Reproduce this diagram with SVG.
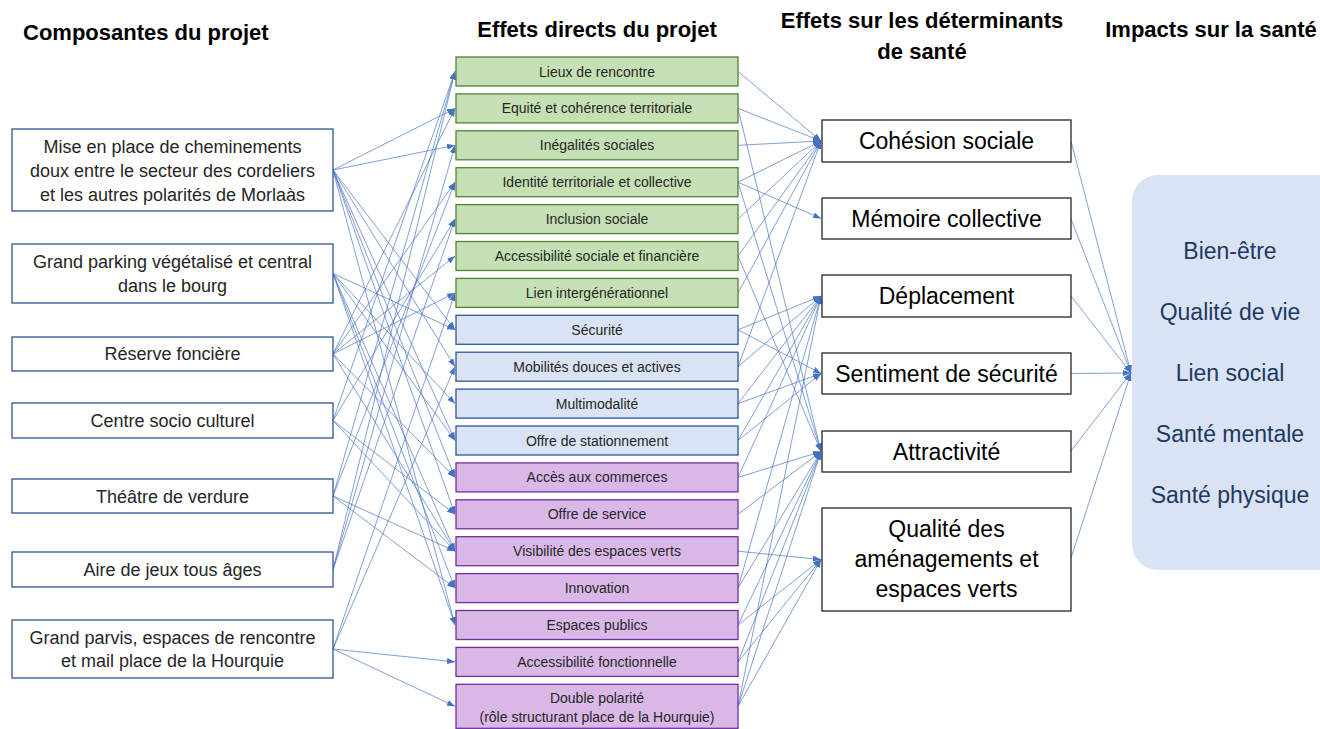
<svg xmlns="http://www.w3.org/2000/svg" width="1320" height="729" viewBox="0 0 1320 729">
<defs>
<marker id="ah" viewBox="0 0 8 6" refX="8" refY="3" markerWidth="8" markerHeight="6" markerUnits="userSpaceOnUse" orient="auto"><path d="M0,0 L8,3 L0,6 z" fill="#4472c4"/></marker>
<style>
.hd{font-family:"Liberation Sans",Arial,sans-serif;font-weight:bold;font-size:22px;fill:#000}
.lt{font-family:"Liberation Sans",Arial,sans-serif;font-size:18px;fill:#262626;text-anchor:middle}
.mt{font-family:"Liberation Sans",Arial,sans-serif;font-size:14px;fill:#262626;text-anchor:middle}
.rt{font-family:"Liberation Sans",Arial,sans-serif;font-size:23px;fill:#000;text-anchor:middle}
.it{font-family:"Liberation Sans",Arial,sans-serif;font-size:23px;fill:#203864;text-anchor:middle}
.lb{fill:#fff;stroke:#2f5597;stroke-width:1.3}
.gb{fill:#c5e0b4;stroke:#548235;stroke-width:1.3}
.bb{fill:#dae3f3;stroke:#2f5597;stroke-width:1.3}
.pb{fill:#d9b8e8;stroke:#7030a0;stroke-width:1.3}
.rb{fill:#fff;stroke:#262626;stroke-width:1.3}
.cn line{stroke:#4472c4;stroke-width:0.9;stroke-opacity:0.75;marker-end:url(#ah)}
</style>
</defs>
<rect width="1320" height="729" fill="#fff"/>
<g id="headers">
<text class="hd" x="23" y="40">Composantes du projet</text>
<text class="hd" x="597" y="37" text-anchor="middle">Effets directs du projet</text>
<text class="hd" x="922" y="28" text-anchor="middle">Effets sur les déterminants</text>
<text class="hd" x="922" y="59" text-anchor="middle">de santé</text>
<text class="hd" x="1211" y="37" text-anchor="middle">Impacts sur la santé</text>
</g>
<g id="connectors" class="cn">
<line x1="333" y1="170" x2="455" y2="108.4"/>
<line x1="333" y1="170" x2="455" y2="145.3"/>
<line x1="333" y1="170" x2="455" y2="329.8"/>
<line x1="333" y1="170" x2="455" y2="366.7"/>
<line x1="333" y1="170" x2="455" y2="440.5"/>
<line x1="333" y1="170" x2="455" y2="477.4"/>
<line x1="333" y1="170" x2="455" y2="514.3"/>
<line x1="333" y1="170" x2="455" y2="625"/>
<line x1="333" y1="273.5" x2="455" y2="329.8"/>
<line x1="333" y1="273.5" x2="455" y2="403.6"/>
<line x1="333" y1="273.5" x2="455" y2="440.5"/>
<line x1="333" y1="273.5" x2="455" y2="551.2"/>
<line x1="333" y1="273.5" x2="455" y2="588.1"/>
<line x1="333" y1="273.5" x2="455" y2="625"/>
<line x1="333" y1="354" x2="455" y2="108.4"/>
<line x1="333" y1="354" x2="455" y2="182.2"/>
<line x1="333" y1="354" x2="455" y2="256"/>
<line x1="333" y1="354" x2="455" y2="292.9"/>
<line x1="333" y1="354" x2="455" y2="477.4"/>
<line x1="333" y1="354" x2="455" y2="551.2"/>
<line x1="333" y1="420.5" x2="455" y2="71.5"/>
<line x1="333" y1="420.5" x2="455" y2="219.1"/>
<line x1="333" y1="420.5" x2="455" y2="514.3"/>
<line x1="333" y1="420.5" x2="455" y2="551.2"/>
<line x1="333" y1="496" x2="455" y2="71.5"/>
<line x1="333" y1="496" x2="455" y2="182.2"/>
<line x1="333" y1="496" x2="455" y2="551.2"/>
<line x1="333" y1="496" x2="455" y2="588.1"/>
<line x1="333" y1="569.5" x2="455" y2="71.5"/>
<line x1="333" y1="569.5" x2="455" y2="145.3"/>
<line x1="333" y1="569.5" x2="455" y2="219.1"/>
<line x1="333" y1="649" x2="455" y2="292.9"/>
<line x1="333" y1="649" x2="455" y2="366.7"/>
<line x1="333" y1="649" x2="455" y2="661.9"/>
<line x1="333" y1="649" x2="455" y2="706.3"/>
<line x1="738" y1="71.5" x2="821" y2="141"/>
<line x1="738" y1="108.4" x2="821" y2="141"/>
<line x1="738" y1="108.4" x2="821" y2="451.5"/>
<line x1="738" y1="145.3" x2="821" y2="141"/>
<line x1="738" y1="182.2" x2="821" y2="141"/>
<line x1="738" y1="182.2" x2="821" y2="218.5"/>
<line x1="738" y1="182.2" x2="821" y2="451.5"/>
<line x1="738" y1="219.1" x2="821" y2="141"/>
<line x1="738" y1="256" x2="821" y2="141"/>
<line x1="738" y1="256" x2="821" y2="451.5"/>
<line x1="738" y1="292.9" x2="821" y2="141"/>
<line x1="738" y1="329.8" x2="821" y2="296"/>
<line x1="738" y1="329.8" x2="821" y2="373.5"/>
<line x1="738" y1="366.7" x2="821" y2="296"/>
<line x1="738" y1="366.7" x2="821" y2="141"/>
<line x1="738" y1="403.6" x2="821" y2="296"/>
<line x1="738" y1="403.6" x2="821" y2="373.5"/>
<line x1="738" y1="440.5" x2="821" y2="296"/>
<line x1="738" y1="440.5" x2="821" y2="373.5"/>
<line x1="738" y1="477.4" x2="821" y2="451.5"/>
<line x1="738" y1="477.4" x2="821" y2="296"/>
<line x1="738" y1="514.3" x2="821" y2="451.5"/>
<line x1="738" y1="551.2" x2="821" y2="559.5"/>
<line x1="738" y1="588.1" x2="821" y2="451.5"/>
<line x1="738" y1="588.1" x2="821" y2="296"/>
<line x1="738" y1="625" x2="821" y2="559.5"/>
<line x1="738" y1="625" x2="821" y2="451.5"/>
<line x1="738" y1="661.9" x2="821" y2="451.5"/>
<line x1="738" y1="661.9" x2="821" y2="559.5"/>
<line x1="738" y1="706.3" x2="821" y2="451.5"/>
<line x1="738" y1="706.3" x2="821" y2="559.5"/>
<line x1="738" y1="706.3" x2="821" y2="296"/>
<line x1="1071" y1="141" x2="1131" y2="373"/>
<line x1="1071" y1="219" x2="1131" y2="373"/>
<line x1="1071" y1="296" x2="1131" y2="373"/>
<line x1="1071" y1="373.5" x2="1131" y2="373"/>
<line x1="1071" y1="451" x2="1131" y2="373"/>
<line x1="1071" y1="558" x2="1131" y2="373"/>
</g>
<g id="n-l1"><rect class="lb" x="12" y="129" width="321" height="82"/><text class="lt" x="172.5" y="153">Mise en place de cheminements</text><text class="lt" x="172.5" y="177">doux entre le secteur des cordeliers</text><text class="lt" x="172.5" y="201">et les autres polarités de Morlaàs</text></g>
<g id="n-l2"><rect class="lb" x="12" y="244" width="321" height="59"/><text class="lt" x="172.5" y="268">Grand parking végétalisé et central</text><text class="lt" x="172.5" y="292">dans le bourg</text></g>
<g id="n-l3"><rect class="lb" x="12" y="337" width="321" height="34"/><text class="lt" x="172.5" y="360">Réserve  foncière</text></g>
<g id="n-l4"><rect class="lb" x="12" y="403" width="321" height="35"/><text class="lt" x="172.5" y="427">Centre socio culturel</text></g>
<g id="n-l5"><rect class="lb" x="12" y="479" width="321" height="34"/><text class="lt" x="172.5" y="502.5">Théâtre de verdure</text></g>
<g id="n-l6"><rect class="lb" x="12" y="552" width="321" height="35"/><text class="lt" x="172.5" y="576">Aire de jeux tous âges</text></g>
<g id="n-l7"><rect class="lb" x="12" y="620" width="321" height="58"/><text class="lt" x="172.5" y="643.5">Grand parvis, espaces de rencontre</text><text class="lt" x="172.5" y="667">et mail place de la Hourquie</text></g>
<g id="n-m0"><rect class="gb" x="456" y="57" width="282" height="29"/><text class="mt" x="597" y="76.5">Lieux de rencontre</text></g>
<g id="n-m1"><rect class="gb" x="456" y="93.9" width="282" height="29"/><text class="mt" x="597" y="113.4">Equité et cohérence territoriale</text></g>
<g id="n-m2"><rect class="gb" x="456" y="130.8" width="282" height="29"/><text class="mt" x="597" y="150.3">Inégalités sociales</text></g>
<g id="n-m3"><rect class="gb" x="456" y="167.7" width="282" height="29"/><text class="mt" x="597" y="187.2">Identité territoriale et collective</text></g>
<g id="n-m4"><rect class="gb" x="456" y="204.6" width="282" height="29"/><text class="mt" x="597" y="224.1">Inclusion sociale</text></g>
<g id="n-m5"><rect class="gb" x="456" y="241.5" width="282" height="29"/><text class="mt" x="597" y="261">Accessibilité sociale et financière</text></g>
<g id="n-m6"><rect class="gb" x="456" y="278.4" width="282" height="29"/><text class="mt" x="597" y="297.9">Lien intergénérationnel</text></g>
<g id="n-m7"><rect class="bb" x="456" y="315.3" width="282" height="29"/><text class="mt" x="597" y="334.8">Sécurité</text></g>
<g id="n-m8"><rect class="bb" x="456" y="352.2" width="282" height="29"/><text class="mt" x="597" y="371.7">Mobilités douces et actives</text></g>
<g id="n-m9"><rect class="bb" x="456" y="389.1" width="282" height="29"/><text class="mt" x="597" y="408.6">Multimodalité</text></g>
<g id="n-m10"><rect class="bb" x="456" y="426" width="282" height="29"/><text class="mt" x="597" y="445.5">Offre de stationnement</text></g>
<g id="n-m11"><rect class="pb" x="456" y="462.9" width="282" height="29"/><text class="mt" x="597" y="482.4">Accès aux commerces</text></g>
<g id="n-m12"><rect class="pb" x="456" y="499.8" width="282" height="29"/><text class="mt" x="597" y="519.3">Offre de service</text></g>
<g id="n-m13"><rect class="pb" x="456" y="536.7" width="282" height="29"/><text class="mt" x="597" y="556.2">Visibilité des espaces verts</text></g>
<g id="n-m14"><rect class="pb" x="456" y="573.6" width="282" height="29"/><text class="mt" x="597" y="593.1">Innovation</text></g>
<g id="n-m15"><rect class="pb" x="456" y="610.5" width="282" height="29"/><text class="mt" x="597" y="630">Espaces publics</text></g>
<g id="n-m16"><rect class="pb" x="456" y="647.4" width="282" height="29"/><text class="mt" x="597" y="666.9">Accessibilité fonctionnelle</text></g>
<g id="n-m17"><rect class="pb" x="456" y="684.3" width="282" height="44"/><text class="mt" x="597" y="703">Double polarité</text><text class="mt" x="597" y="722">(rôle structurant place de la Hourquie)</text></g>
<g id="n-r1"><rect class="rb" x="822" y="120" width="249" height="42"/><text class="rt" x="946.5" y="149">Cohésion sociale</text></g>
<g id="n-r2"><rect class="rb" x="822" y="198" width="249" height="41"/><text class="rt" x="946.5" y="227">Mémoire collective</text></g>
<g id="n-r3"><rect class="rb" x="822" y="275" width="249" height="42"/><text class="rt" x="946.5" y="304">Déplacement</text></g>
<g id="n-r4"><rect class="rb" x="822" y="353" width="249" height="41"/><text class="rt" x="946.5" y="382">Sentiment de sécurité</text></g>
<g id="n-r5"><rect class="rb" x="822" y="431" width="249" height="41"/><text class="rt" x="946.5" y="460">Attractivité</text></g>
<g id="n-r6"><rect class="rb" x="822" y="508" width="249" height="103"/><text class="rt" x="946.5" y="537">Qualité des</text><text class="rt" x="946.5" y="567">aménagements et</text><text class="rt" x="946.5" y="597">espaces verts</text></g>
<g id="n-impacts"><rect x="1132" y="175" width="220" height="395" rx="26" fill="#dae3f3"/><text class="it" x="1230" y="259">Bien-être</text><text class="it" x="1230" y="320">Qualité de vie</text><text class="it" x="1230" y="381">Lien social</text><text class="it" x="1230" y="442">Santé mentale</text><text class="it" x="1230" y="503">Santé physique</text></g>
</svg>
